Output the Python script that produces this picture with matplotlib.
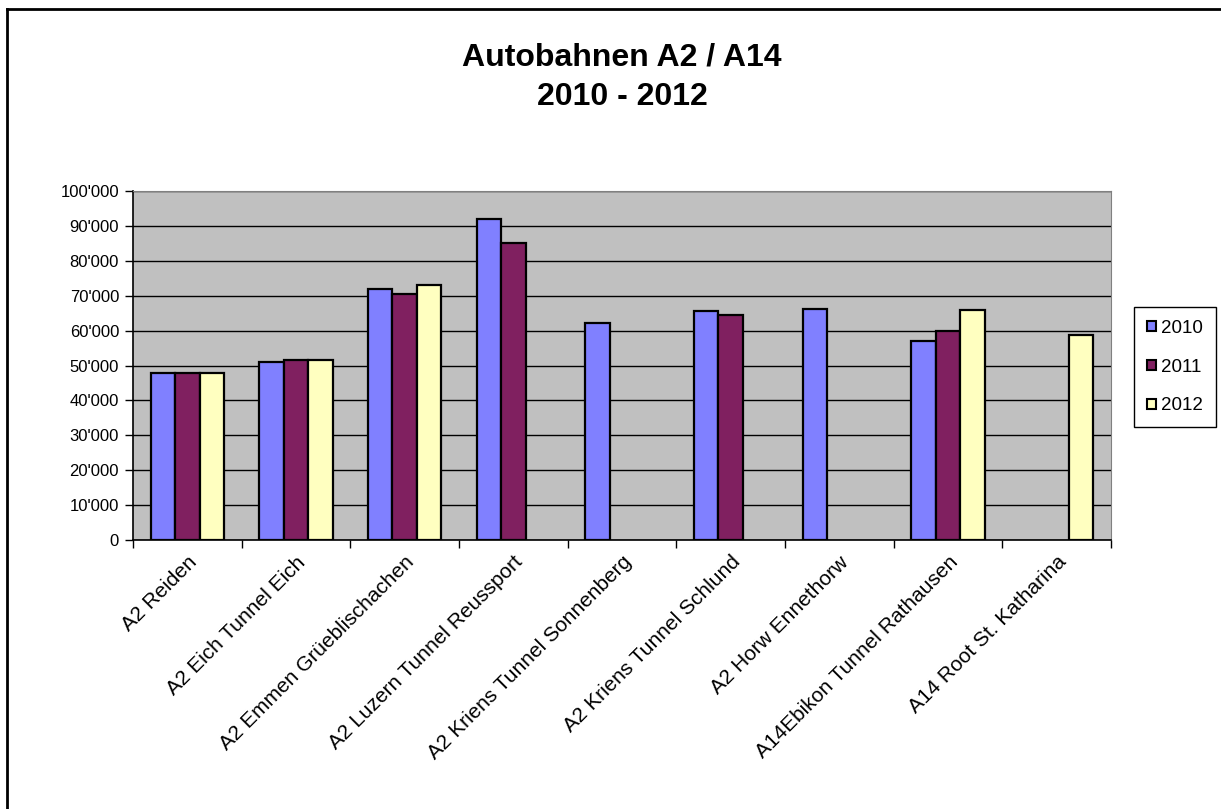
import matplotlib
matplotlib.use("Agg")
import matplotlib.pyplot as plt
from matplotlib.lines import Line2D
from matplotlib.patches import Patch
from matplotlib.ticker import FuncFormatter
from matplotlib.transforms import ScaledTranslation
import numpy as np

plt.rcParams["font.family"] = ["Liberation Sans", "DejaVu Sans"]

stations = [
    "A2 Reiden",
    "A2 Eich Tunnel Eich",
    "A2 Emmen Grüeblischachen",
    "A2 Luzern Tunnel Reussport",
    "A2 Kriens Tunnel Sonnenberg",
    "A2 Kriens Tunnel Schlund",
    "A2 Horw Ennethorw",
    "A14Ebikon Tunnel Rathausen",
    "A14 Root St. Katharina",
]
years = ["2010", "2011", "2012"]
v2010 = [47800, 51100, 71800, 92100, 62200, 65500, 66300, 57000, np.nan]
v2011 = [47800, 51500, 70600, 85200, np.nan, 64500, np.nan, 59900, np.nan]
v2012 = [47800, 51500, 73200, np.nan, np.nan, np.nan, np.nan, 66000, 58600]
colors = ["#8080FF", "#802060", "#FFFFC0"]

W, H = 1221, 809
fig = plt.figure(figsize=(W / 100, H / 100), dpi=100)
ax = fig.add_axes([133 / W, 1 - 540 / H, (1111 - 133) / W, (540 - 191) / H])
ax.set_facecolor("#C0C0C0")

x = np.arange(len(stations))
w = 0.224
for i, (vals, c) in enumerate(zip([v2010, v2011, v2012], colors)):
    ax.bar(x + (i - 1) * w, vals, width=w, color=c, edgecolor="black",
           linewidth=1.6, zorder=3)

ax.set_xlim(-0.5, len(stations) - 0.5)
ax.set_ylim(0, 100000)
ax.set_yticks(np.arange(0, 100001, 10000))
ax.yaxis.set_major_formatter(FuncFormatter(lambda v, p: f"{int(v):,}".replace(",", "'")))
ax.yaxis.grid(True, color="black", linewidth=1, zorder=1)
ax.set_axisbelow(True)

# category boundaries carry the tick marks, labels sit at the centres
ax.set_xticks(np.arange(len(stations) + 1) - 0.5)
ax.set_xticklabels([])
ax.set_xticks(x, minor=True)
ax.set_xticklabels(stations, minor=True, rotation=45, ha="right",
                   va="top", rotation_mode="anchor", fontsize=15)
shift = ScaledTranslation(-5 / 100, -2 / 100, fig.dpi_scale_trans)
for lbl in ax.get_xticklabels(minor=True):
    lbl.set_transform(lbl.get_transform() + shift)
ax.tick_params(axis="x", which="minor", length=0, pad=9)
ax.tick_params(axis="x", which="major", length=6, direction="out", width=1)
ax.tick_params(axis="y", length=6, direction="out", width=1, labelsize=12, pad=4)

for s in ["top", "right"]:
    ax.spines[s].set_color("#808080")
for s in ["left", "bottom"]:
    ax.spines[s].set_color("black")
    ax.spines[s].set_linewidth(1.2)

fig.text(622 / W, 1 - 66 / H, "Autobahnen A2 / A14", ha="center",
         va="baseline", fontsize=23, fontweight="bold")
fig.text(622 / W, 1 - 105 / H, "2010 - 2012", ha="center",
         va="baseline", fontsize=23, fontweight="bold")

handles = [Patch(facecolor=c, edgecolor="black", linewidth=1.5) for c in colors]
leg = fig.legend(handles, years, loc="upper left",
                 bbox_to_anchor=(1134 / W, 1 - 307 / H),
                 fontsize=13.5, handlelength=0.45, handleheight=0.45,
                 handletextpad=0.3, labelspacing=1.15, borderpad=0.7,
                 fancybox=False, framealpha=1, edgecolor="black",
                 borderaxespad=0)
leg.get_frame().set_linewidth(1)

# outer chart border (only top and left edges are visible)
fig.add_artist(Line2D([7 / W, 1], [1 - 9 / H, 1 - 9 / H],
                      transform=fig.transFigure, color="black", linewidth=2))
fig.add_artist(Line2D([7 / W, 7 / W], [0, 1 - 9 / H],
                      transform=fig.transFigure, color="black", linewidth=2))

fig.savefig("out.png", dpi=100)
